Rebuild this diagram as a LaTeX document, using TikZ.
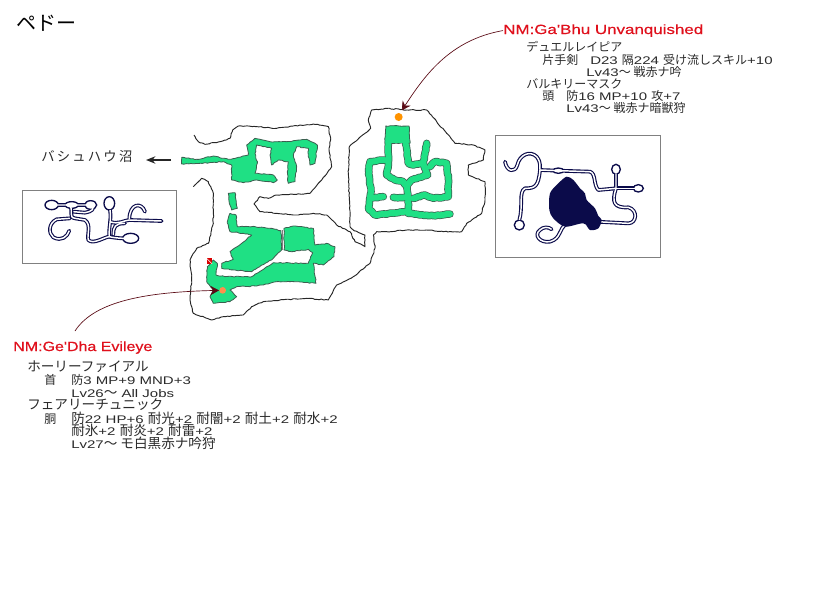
\documentclass[tikz,border=0pt]{standalone}
\usepackage{graphicx}
\usepackage{fontspec}
\usetikzlibrary{decorations.pathmorphing,arrows.meta}
\setmainfont[Scale=.92,FakeStretch=1.36]{Liberation Sans}
\newfontfamily\nmfont[FakeBold=.35]{Liberation Sans}
\newfontfamily\jp{Noto Sans CJK JP}
\newcommand{\J}[1]{{\jp #1}}
\newcommand{\JL}[1]{{\fontsize{10.2pt}{11pt}\selectfont\jp #1}}
\definecolor{wall}{HTML}{262626}
\definecolor{zone}{HTML}{1FE084}
\definecolor{zoneedge}{HTML}{3C5F50}
\definecolor{navy}{HTML}{0B0B4A}
\definecolor{nmred}{HTML}{E0101C}
\definecolor{txt}{HTML}{2A2A2A}
\definecolor{framegray}{HTML}{808080}
\definecolor{arrowred}{HTML}{5A0A14}
\tikzset{
  rough/.style={decorate,decoration={random steps,segment length=1.7pt,amplitude=.35pt}},
  wallline/.style={draw=wall,line width=.7pt,rough,line join=round},
  zonefill/.style={draw=zoneedge,fill=zone,line width=.6pt,rough,line join=round},
  nmlabel/.style={anchor=base west,inner sep=0pt,text=nmred,font=\fontsize{10pt}{12pt}\selectfont\nmfont},
  itemlabel/.style={anchor=base west,inner sep=0pt,text=txt,font=\fontsize{9pt}{11pt}\selectfont},
  framebox/.style={draw=framegray,line width=.6pt,fill=white},
  mazeouter/.style={draw=zoneedge,line width=5.6pt,line cap=round,line join=round,rough},
  mazeinner/.style={draw=zone,line width=4.5pt,line cap=round,line join=round,rough},
  miniouter/.style={draw=navy,line width=2.8pt,line cap=round,line join=round},
  miniinner/.style={draw=white,line width=1.1pt,line join=round},
  bloboouter/.style={draw=navy,line width=1pt,fill=white},
  connector/.style={draw=arrowred,line width=.5pt,-{Stealth[length=6.5pt,width=7pt]}},
}
\newcommand{\mazepaths}[1]{%
  \pgfmathsetseed{11}%
  \draw[#1] (625,125) -- (625,190) -- (620,225) -- (645,240) -- (670,245) -- (680,260) -- (685,300) -- (685,340);
  \draw[#1] (677,125) -- (685,190) -- (700,195) -- (730,190) -- (743,225) -- (695,240) -- (680,260);
  \draw[#1] (730,190) -- (740,130);
  \draw[#1] (615,180) -- (570,185) -- (565,210) -- (573,270) -- (565,325) -- (585,345) -- (655,338) -- (685,335);
  \draw[#1] (573,295) -- (610,290);
  \draw[#1] (640,292) -- (680,292);
  \draw[#1] (700,295) -- (735,285) -- (760,295) -- (805,290) -- (805,235) -- (800,190) -- (765,185) -- (750,200);
  \draw[#1] (685,340) -- (720,345) -- (760,347) -- (810,342);
}
\newcommand{\miniAroads}[1]{%
  \draw[#1] (45,95) .. controls (50,125) and (75,130) .. (82,105) .. controls (88,75) and (120,60) .. (140,80) .. controls (155,100) and (148,110) .. (150,120) .. controls (145,170) and (135,175) .. (105,175) .. controls (85,185) and (100,230) .. (88,270);
  \draw[#1] (150,120) -- (205,122) -- (300,125) .. controls (318,130) and (310,165) .. (325,180) -- (378,175) -- (378,130);
  \draw[#1] (378,175) -- (445,175);
  \draw[#1] (378,175) .. controls (365,215) and (370,235) .. (415,232) .. controls (445,240) and (440,280) .. (415,280) -- (320,275);
  \draw[#1] (230,282) .. controls (205,295) and (215,325) .. (180,335) .. controls (150,340) and (130,315) .. (150,300) .. controls (160,290) and (175,290) .. (185,298);
}
\newcommand{\miniAblobs}[1]{%
  \draw[#1] (378,118) circle[x radius=13,y radius=15];
  \draw[#1] (445,175) circle[x radius=15,y radius=11];
  \draw[#1] (88,285) circle[x radius=15,y radius=15];
  \draw[#1] (205,122) circle[x radius=16,y radius=8];
}
\newcommand{\miniBroads}[1]{%
  \draw[#1] (125,195) -- (242,195) .. controls (258,205) and (245,215) .. (225,218) -- (190,215);
  \draw[#1] (180,195) .. controls (190,215) and (175,232) .. (195,235) -- (225,240) .. controls (245,255) and (230,285) .. (235,300) .. controls (250,315) and (285,290) .. (298,290);
  \draw[#1] (180,235) -- (140,238) .. controls (115,250) and (115,280) .. (130,292) .. controls (155,305) and (172,290) .. (178,272);
  \draw[#1] (300,210) .. controls (305,240) and (295,265) .. (298,290) .. controls (320,295) and (340,295) .. (345,295);
  \draw[#1] (300,245) .. controls (325,255) and (345,240) .. (358,240) -- (455,243);
  \draw[#1] (310,285) .. controls (310,260) and (315,250) .. (345,250);
  \draw[#1] (358,238) .. controls (358,190) and (395,185) .. (405,215);
}
\newcommand{\miniBblobs}[1]{%
  \draw[#1] (298,190) circle[x radius=16,y radius=20];
  \draw[#1] (362,295) circle[x radius=24,y radius=15];
  \draw[#1] (125,195) circle[x radius=20,y radius=14];
  \draw[#1] (185,195) circle[x radius=20,y radius=10];
  \draw[#1] (242,195) circle[x radius=18,y radius=13];
}
\begin{document}
\begin{tikzpicture}[x=.75pt,y=-.75pt]
\useasboundingbox[fill=white] (0,0) rectangle (840,600);

% title
\node[anchor=base west,inner sep=0pt,text=black,font=\fontsize{15pt}{16pt}\selectfont\jp] (title) at (16,30) {ペドー};

% map (coordinates of a 3x zoom)
\begin{scope}[shift={(180,100)},x=.25pt,y=-.25pt]
\pgfmathsetseed{5}
\draw[wallline] (42,105) -- (55,125) -- (75,133) -- (120,125) -- (150,115) -- (158,90) -- (175,78) -- (230,80) -- (290,85) -- (340,78) -- (400,72) -- (445,80) -- (452,120) -- (447,145) -- (455,200) -- (425,240) -- (390,280) -- (340,283) -- (290,285) -- (265,295) -- (240,290) -- (222,312) -- (240,335) -- (290,340) -- (340,345) -- (400,340) -- (440,345) -- (470,375) -- (510,395) -- (525,425) -- (555,440) -- (555,405) -- (520,390) -- (510,380) -- (508,300) -- (505,220) -- (508,140) -- (555,100) -- (572,85) -- (565,60) -- (575,30) -- (620,25) -- (680,30) -- (740,30) -- (770,65) -- (800,100) -- (825,130) -- (880,135) -- (915,150) -- (910,180) -- (865,195) -- (865,225) -- (915,245) -- (915,300) -- (905,340) -- (860,370) -- (845,395) -- (790,395) -- (740,390) -- (680,390) -- (620,395) -- (590,395) -- (580,405) -- (585,445) -- (570,490) -- (520,530) -- (470,555) -- (445,600) -- (380,595) -- (300,600) -- (250,605) -- (215,620) -- (190,645) -- (130,650) -- (95,660) -- (40,640) -- (30,600) -- (35,540) -- (30,480) -- (50,445) -- (85,430) -- (100,370) -- (100,280) -- (85,245) -- (65,235) -- (40,260);

% upper corridor
\draw[zonefill] (5,172) -- (50,178) -- (100,168) -- (145,178) -- (175,172) -- (205,165) -- (200,135) -- (225,115) -- (270,125) -- (320,125) -- (380,118) -- (412,135) -- (405,190) -- (390,195) -- (385,170) -- (385,145) -- (350,140) -- (340,165) -- (350,200) -- (345,245) -- (325,250) -- (322,215) -- (325,185) -- (295,180) -- (275,195) -- (270,165) -- (275,145) -- (230,135) -- (225,160) -- (232,190) -- (225,220) -- (280,225) -- (292,240) -- (280,248) -- (230,240) -- (190,248) -- (155,240) -- (155,195) -- (130,185) -- (60,190) -- (5,192) -- cycle;
% small island
\draw[zonefill] (145,280) -- (165,278) -- (168,300) -- (172,325) -- (155,330) -- (148,310) -- cycle;
% lower-left halls
\draw[zonefill] (150,340) -- (168,345) -- (172,380) -- (225,380) -- (270,385) -- (303,392) -- (305,450) -- (280,475) -- (215,515) -- (165,510) -- (125,505) -- (125,490) -- (160,478) -- (150,455) -- (185,430) -- (215,405) -- (190,400) -- (150,395) -- (142,365) -- cycle;
\draw[zonefill] (312,385) -- (340,378) -- (400,385) -- (405,435) -- (440,430) -- (465,440) -- (462,470) -- (430,495) -- (400,490) -- (408,550) -- (350,545) -- (290,545) -- (230,558) -- (170,560) -- (150,570) -- (170,590) -- (150,605) -- (100,610) -- (90,590) -- (100,570) -- (80,545) -- (82,500) -- (100,480) -- (112,490) -- (108,525) -- (135,530) -- (215,530) -- (280,488) -- (385,490) -- (398,458) -- (385,448) -- (335,455) -- (312,450) -- cycle;
\draw[draw=framegray,line width=.7pt] (308,390) -- (308,450);

% right maze
\mazepaths{mazeouter}
\draw[zonefill] (617,78) -- (687,78) -- (690,130) -- (615,130) -- cycle;
\mazepaths{mazeinner}
\fill[zone] (621,82) rectangle (684,128);

% markers
\node[circle,fill=orange!85!yellow,minimum size=6pt,inner sep=0pt] (orbA) at (656,51) {};
\node[circle,fill=orange!75!red!70!white,minimum size=5pt,inner sep=0pt] (orbB) at (128,571) {};
\node[rectangle,fill=red!85!black,minimum size=4pt,inner sep=0pt] (chest) at (88,483) {};
\draw[white,line width=.4pt] (chest.north west) -- (chest.south east);
\node[inner sep=0pt,minimum size=0pt] (targetA) at (665,32) {};
\node[inner sep=0pt,minimum size=0pt] (targetB) at (118,571) {};
\end{scope}

% mini map right
\node[framebox,minimum width=164.5*.75pt,minimum height=121.5*.75pt,inner sep=0pt] (miniA) at (578,196.5) {};
\begin{scope}[shift={(490,130)},x=.25pt,y=-.25pt]
\miniAroads{miniouter}
\miniAblobs{bloboouter}
\miniAroads{miniinner}
\fill[navy] plot[smooth cycle] coordinates {(230,140) (250,150) (270,175) (285,190) (290,210) (315,235) (325,258) (335,270) (325,295) (300,300) (280,280) (225,290) (190,265) (178,240) (180,190) (205,160)};
\fill[white] (285,288) circle[radius=1.3pt];
\end{scope}

% mini map left
\node[framebox,minimum width=153.5*.75pt,minimum height=72.5*.75pt,inner sep=0pt] (miniB) at (99.5,227) {};
\begin{scope}[shift={(10,140)},x=.25pt,y=-.25pt]
\miniBroads{miniouter}
\miniBblobs{bloboouter}
\miniBroads{miniinner}
\end{scope}

% exit label
\node[anchor=base west,inner sep=0pt,text=txt,font=\fontsize{10pt}{11pt}\selectfont\jp] (swamp) at (41,161) {バ\,シ\,ュ\,ハ\,ウ\,沼};
\coordinate (exitstart) at (171,160);
\coordinate (exitend) at (146,160);
\draw[draw=wall,line width=1.4pt,-{Stealth[length=7pt,width=5.5pt]}] (exitstart) -- (exitend);

% NM Ga'Bhu
\node[nmlabel] (gabhu) at (503,34) {\scalebox{1.27}[1]{NM:Ga'Bhu Unvanquished}};
\draw[connector] (gabhu.west) .. controls (450,40) and (425,75) .. (targetA);
\node[itemlabel] (a1) at (526,51) {\J{デュエルレイピア}};
\node[itemlabel] (a2) at (542,64) {\J{片手剣}};
\node[itemlabel] (a3) at (590,64) {D23 \J{隔}224 \J{受け流しスキル}+10};
\node[itemlabel] (a4) at (586,76) {Lv43\J{～ 戦赤ナ吟}};
\node[itemlabel] (a5) at (526,88) {\J{バルキリーマスク}};
\node[itemlabel] (a6) at (542,100) {\J{頭}};
\node[itemlabel] (a7) at (566,100) {\J{防}16 MP+10 \J{攻}+7};
\node[itemlabel] (a8) at (566,112) {Lv43\J{～ 戦赤ナ暗獣狩}};

% NM Ge'Dha
\coordinate (gedhastart) at (75,331);
\draw[connector] (gedhastart) .. controls (95,300) and (150,292) .. (targetB);
\node[nmlabel] (gedha) at (13,351) {\scalebox{1.2}[1]{NM:Ge'Dha Evileye}};
\node[itemlabel] (b1) at (27,371) {\JL{ホーリーファイアル}};
\node[itemlabel] (b2) at (44,384) {\J{首}};
\node[itemlabel] (b3) at (71,384) {\J{防}3 MP+9 MND+3};
\node[itemlabel] (b4) at (71,397) {Lv26\JL{～} All Jobs};
\node[itemlabel] (b5) at (27,409) {\JL{フェアリーチュニック}};
\node[itemlabel] (b6) at (44,423) {\J{胴}};
\node[itemlabel] (b7) at (71,423) {\JL{防}22 HP+6 \JL{耐光}+2 \JL{耐闇}+2 \JL{耐土}+2 \JL{耐水}+2};
\node[itemlabel] (b8) at (71,435) {\JL{耐氷}+2 \JL{耐炎}+2 \JL{耐雷}+2};
\node[itemlabel] (b9) at (71,448) {Lv27\JL{～ モ白黒赤ナ吟狩}};
\end{tikzpicture}
\end{document}
